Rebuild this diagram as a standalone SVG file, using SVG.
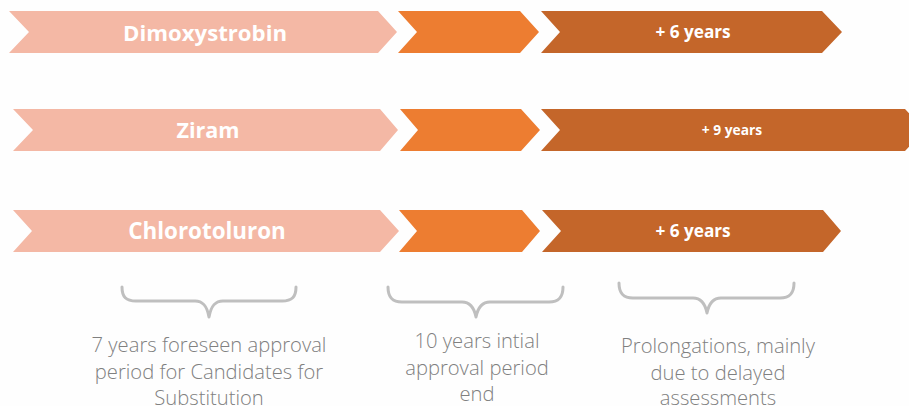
<svg xmlns="http://www.w3.org/2000/svg" width="909" height="406" viewBox="0 0 909 406">
<style>
.pink{fill:#f4b8a5}
.orange{fill:#ed7d31}
.dark{fill:#c4662a}
.lbl{font-family:"Open Sans","Liberation Sans",sans-serif;font-weight:700;fill:#ffffff;text-anchor:middle}
.brace{fill:none;stroke:#bfbfbf;stroke-width:3;stroke-linecap:round;stroke-linejoin:round}
.cap{font-family:"Open Sans","Liberation Sans",sans-serif;font-weight:300;font-size:20.2px;fill:#808080;text-anchor:middle}
</style>
<rect width="909" height="406" fill="#fefefe"/>
<g id="row-dimoxystrobin">
<polygon class="pink" points="9,11 378,11 397,32 378,53 9,53 29,32"/>
<polygon class="orange" points="398,11 520,11 539,32 520,53 398,53 417,32"/>
<polygon class="dark" points="541,11 822,11 842,32 822,53 541,53 560,32"/>
<text class="lbl" x="205" y="41" font-size="22.2">Dimoxystrobin</text>
<text class="lbl" x="693" y="38" font-size="17.2">+ 6 years</text>
</g>
<g id="row-ziram">
<polygon class="pink" points="13,109 380,109 398,130 380,151 13,151 33,130"/>
<polygon class="orange" points="400,109 521,109 540,130 521,151 400,151 418,130"/>
<polygon class="dark" points="541,109 905,109 925,130 905,151 541,151 560,130"/>
<text class="lbl" x="208" y="138" font-size="21.6">Ziram</text>
<text class="lbl" x="732" y="135" font-size="13.8">+ 9 years</text>
</g>
<g id="row-chlorotoluron">
<polygon class="pink" points="13,210 380,210 399,231 380,252 13,252 32,231"/>
<polygon class="orange" points="399,210 522,210 540,231 522,252 399,252 417,231"/>
<polygon class="dark" points="542,210 823,210 841,231 823,252 542,252 561,231"/>
<text class="lbl" x="207" y="239" font-size="22.4">Chlorotoluron</text>
<text class="lbl" x="693" y="237" font-size="17.2">+ 6 years</text>
</g>
<g id="connectors">
<path class="brace" d="M122 287 C122 297 126 301 136 301 L195 301 C203 301 207 306 209 317 C211 306 215 301 223 301 L282 301 C292 301 296 297 296 287"/>
<path class="brace" d="M388 287 C388 297 392 302 402 302 L462 302 C470 302 474 307 476 317 C478 307 482 302 490 302 L549 302 C559 302 563 297 563 287"/>
<path class="brace" d="M619 283 C619 293 623 298 633 298 L693 298 C701 298 705 303 707 313 C709 303 713 298 721 298 L780 298 C790 298 794 293 794 283"/>
</g>
<g id="caption-candidates">
<text class="cap" x="209" y="352">7 years foreseen approval</text>
<text class="cap" x="209" y="379">period for Candidates for</text>
<text class="cap" x="209" y="405">Substitution</text>
</g>
<g id="caption-initial">
<text class="cap" x="477" y="348">10 years intial</text>
<text class="cap" x="477" y="375">approval period</text>
<text class="cap" x="477" y="401">end</text>
</g>
<g id="caption-prolongations">
<text class="cap" x="718" y="353">Prolongations, mainly</text>
<text class="cap" x="718" y="380">due to delayed</text>
<text class="cap" x="718" y="405">assessments</text>
</g>
</svg>
